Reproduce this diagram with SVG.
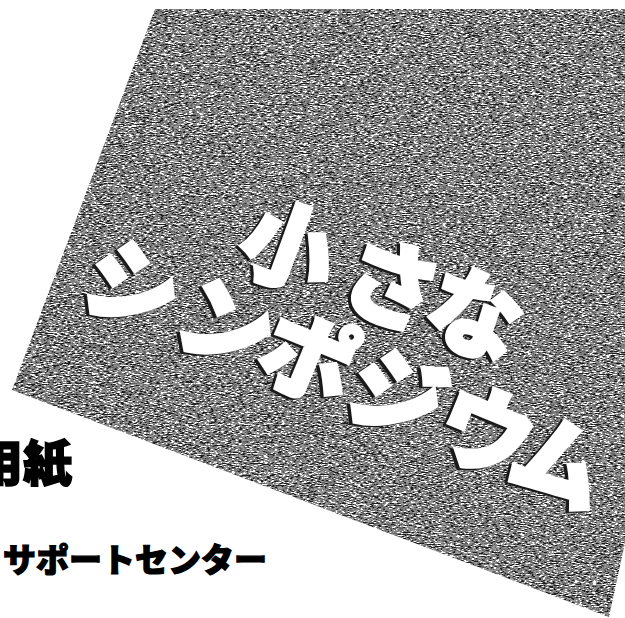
<svg xmlns="http://www.w3.org/2000/svg" width="625" height="618" viewBox="0 0 625 618">
  <defs>
    <style>
      .title { font-family: "Noto Sans CJK JP", "Noto Sans CJK SC", sans-serif; font-weight: 900; font-size: 94px; }
      .white { fill: #ffffff; stroke: #ffffff; stroke-width: 4; }
      .shadow { fill: #1a1a1a; stroke: #1a1a1a; stroke-width: 4; }
      .label { font-family: "Noto Sans CJK JP", "Noto Sans CJK SC", sans-serif; font-weight: 900; fill: #000000; stroke: #000000; }
    </style>
    <filter id="grain" x="0" y="0" width="625" height="618" filterUnits="userSpaceOnUse" color-interpolation-filters="sRGB">
      <feTurbulence type="fractalNoise" baseFrequency="0.28 1.1" numOctaves="2" seed="7" result="n"/>
      <feColorMatrix in="n" type="matrix" values="2.4 0 0 0 -0.7  2.4 0 0 0 -0.7  2.4 0 0 0 -0.7  0 0 0 0 1" result="c"/>
      <feComponentTransfer in="c" result="d">
        <feFuncR type="discrete" tableValues="0.12 0.38 0.5 0.62 0.97"/>
        <feFuncG type="discrete" tableValues="0.12 0.38 0.5 0.62 0.97"/>
        <feFuncB type="discrete" tableValues="0.12 0.38 0.5 0.62 0.97"/>
      </feComponentTransfer>
      <feComposite in="d" in2="SourceGraphic" operator="in"/>
    </filter>
  </defs>
  <rect x="0" y="0" width="625" height="618" fill="#ffffff"/>
  <g id="panel">
    <polygon points="155,9 740,9 609,617 12,390" fill="#808080" filter="url(#grain)"/>
  </g>
  <g id="title-line1" transform="translate(289,247) rotate(20)">
    <text class="title shadow" x="-49.5 59.5 148.5" y="37.5">小さな</text>
    <text class="title white" x="-47 62 151" y="35">小さな</text>
  </g>
  <g id="title-line2" transform="translate(133,286) rotate(22.4)">
    <text class="title shadow" x="-49.5 51 140.5 236.5 332.5 412.5" y="37.5">シンポジウム</text>
    <text class="title white" x="-47 53.5 143 239 335 415" y="35">シンポジウム</text>
  </g>
  <g id="label-form">
    <text class="label" x="-26" y="481" font-size="49" stroke-width="1.5">用紙</text>
  </g>
  <g id="label-center">
    <text class="label" x="3" y="572" font-size="33" stroke-width="1.2">サポートセンター</text>
  </g>
</svg>
